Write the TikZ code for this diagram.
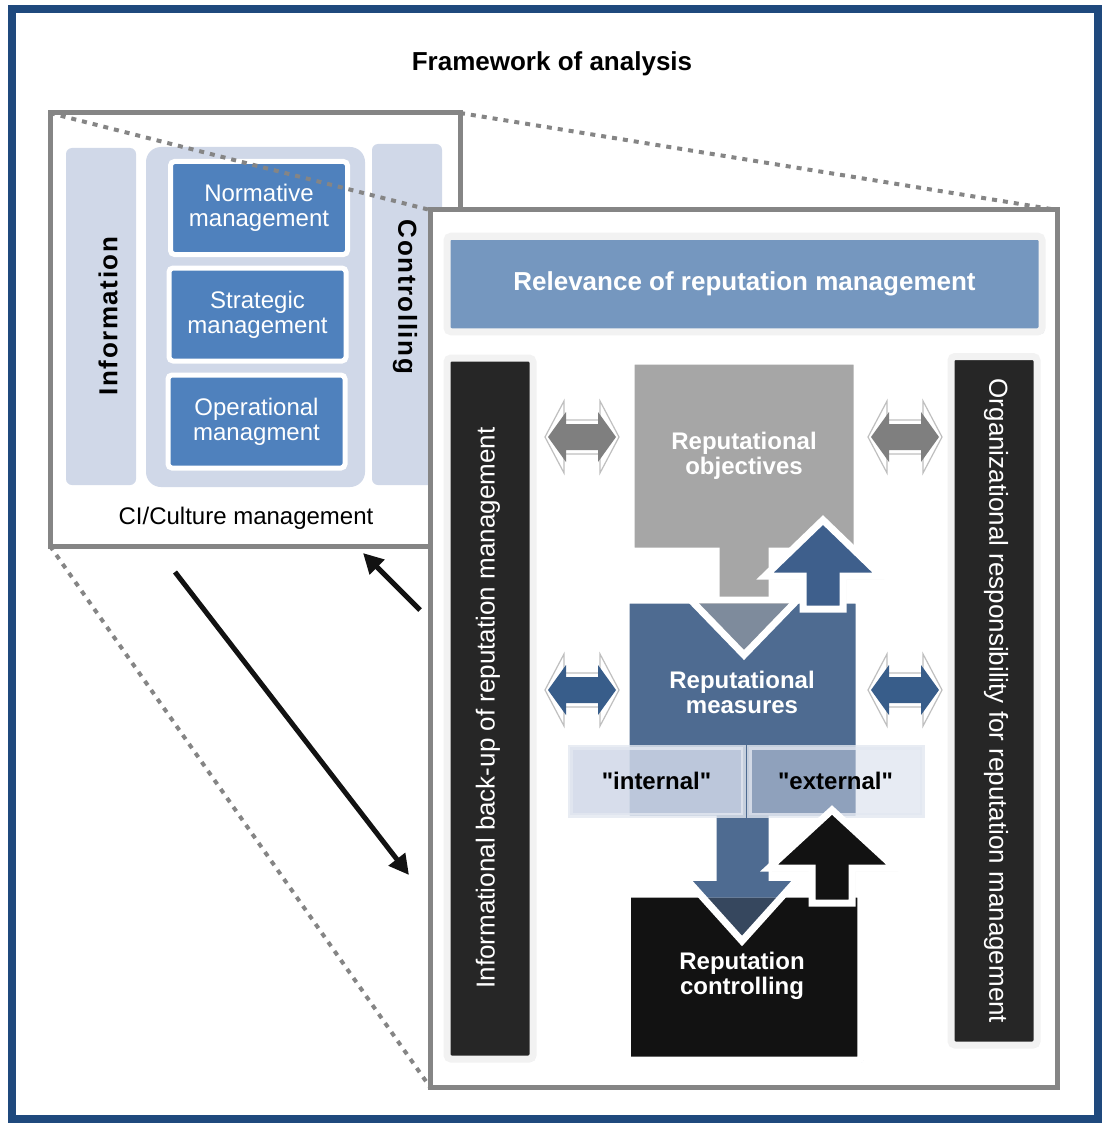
\documentclass[tikz,border=0pt]{standalone}
\usepackage{fontspec}
\setmainfont{Liberation Sans}
\usetikzlibrary{positioning,shadows,arrows.meta}
\definecolor{frameblue}{HTML}{1F497D}
\definecolor{panelgray}{HTML}{858585}
\definecolor{paleblue}{HTML}{D0D8E8}
\definecolor{levelblue}{HTML}{4F81BD}
\definecolor{bannerblue}{HTML}{7597BF}
\definecolor{coldark}{HTML}{262626}
\definecolor{rimgray}{HTML}{F2F2F2}
\definecolor{rimshadow}{HTML}{9AADC8}
\definecolor{objgray}{HTML}{A6A6A6}
\definecolor{measblue}{HTML}{4E6B91}
\definecolor{upblue}{HTML}{3E5F8C}
\definecolor{ctrldark}{HTML}{121212}
\definecolor{sidegray}{HTML}{7F7F7F}
\definecolor{sideblue}{HTML}{385D8A}
\newcommand{\boxfont}{\fontsize{12}{12.5}\selectfont}
\newcommand{\headfont}{\fontsize{12}{12.5}\selectfont\bfseries}
\newcommand{\colfont}{\fontsize{13}{15}\selectfont}

\begin{document}
\begin{tikzpicture}[x=0.5pt, y=-0.5pt,
	levelbox/.style={draw=white, line width=2.5pt, fill=levelblue, rounded corners=2pt, minimum width=88.5pt, minimum height=46.5pt, text=white, font=\boxfont, align=center},
	palecol/.style={fill=paleblue, rounded corners=3pt, minimum width=35pt},
	spaced/.style={font=\colfont\bfseries\addfontfeature{LetterSpace=6}},
	zoomline/.style={panelgray, line width=2pt, dash pattern=on 2.5pt off 3pt},
	rimbox/.style={draw=rimgray, line width=3.5pt, rounded corners=2pt, drop shadow={shadow xshift=1.2pt, shadow yshift=-1.2pt, fill=rimshadow, opacity=0.9}},
	darkcol/.style={rimbox, fill=coldark, minimum width=43pt},
	coltext/.style={text=white, font=\colfont},
	flow/.style={draw=white, line width=3.5pt, line join=miter},
	centre/.style={text=white, font=\headfont, align=center},
	tagbox/.style={draw=paleblue!60!white, draw opacity=0.8, line width=2.5pt, fill=paleblue, minimum width=86.5pt, minimum height=34pt, font=\headfont, text opacity=1},
	linkarrow/.style={draw=ctrldark, line width=2.5pt, -{Triangle[length=10pt, width=10pt]}}
]
	\useasboundingbox (0,0) rectangle (1103,1123);
	\fill[white] (0,0) rectangle (1103,1123);
	\draw[frameblue, line width=4pt] (12,9) rectangle (1098,1119);
	\node[font=\fontsize{13}{15}\selectfont\bfseries] (title) at (552,64) {Framework of analysis};

	\node[draw=panelgray, line width=2.5pt, outer sep=0pt, minimum width=205pt, minimum height=216.5pt] (zoomsrc) at (255,329.5) {};
	\node[palecol, minimum height=168.5pt] (infocol) at (101,316.5) {};
	\node[fill=paleblue, rounded corners=7.5pt, minimum width=109.5pt, minimum height=170pt] (levels) at (255.5,317) {};
	\node[palecol, minimum height=170.5pt] (ctrlcol) at (407,314.5) {};
	\node[levelbox] (normative) at (259,208) {Normative\\management};
	\node[levelbox] (strategic) at (257.5,314.5) {Strategic\\management};
	\node[levelbox] (operational) at (256.5,421.5) {Operational\\managment};
	\node[spaced, rotate=90] (infotext) at (108,316) {Information};
	\node[spaced, rotate=-90] (ctrltext) at (405,297) {Controlling};
	\node[font=\boxfont] (culture) at (246,518) {CI/Culture management};

	\node[draw=panelgray, line width=2.5pt, outer sep=0pt, fill=white, minimum width=313.5pt, minimum height=438.5pt] (zoomdst) at (743.5,648.5) {};
	\draw[zoomline] (zoomsrc.north west) -- (zoomdst.north west);
	\draw[zoomline] (zoomsrc.north east) -- (zoomdst.north east);
	\draw[zoomline] (zoomsrc.south west) -- (zoomdst.south west);

	\node[rimbox, fill=bannerblue, minimum width=297.5pt, minimum height=47.75pt, text=white, font=\colfont\bfseries] (relevance) at (744.5,284) {Relevance of reputation management};
	\node[darkcol, minimum height=350.5pt] (backup) at (490,708.5) {};
	\node[darkcol, minimum height=344.25pt] (duty) at (994,700.75) {};
	\node[coltext, rotate=90] (backuptext) at (488,708) {Informational back-up of reputation management};
	\node[coltext, rotate=-90] (dutytext) at (996,701) {Organizational responsibility for reputation management};

	\foreach \cx/\cy/\tone in {582/437/sidegray, 905/437/sidegray, 582/690/sideblue, 905/690/sideblue}{
		\filldraw[fill=white, draw=black!25, line width=0.6pt] (\cx-37,\cy) -- (\cx-18,\cy-36) -- (\cx-18,\cy-17) -- (\cx+18,\cy-17) -- (\cx+18,\cy-36) -- (\cx+37,\cy) -- (\cx+18,\cy+36) -- (\cx+18,\cy+17) -- (\cx-18,\cy+17) -- (\cx-18,\cy+36) -- cycle;
		\fill[\tone] (\cx-34,\cy) -- (\cx-16,\cy-25) -- (\cx-16,\cy-13) -- (\cx+16,\cy-13) -- (\cx+16,\cy-25) -- (\cx+34,\cy) -- (\cx+16,\cy+25) -- (\cx+16,\cy+13) -- (\cx-16,\cy+13) -- (\cx-16,\cy+25) -- cycle;
	}

	\filldraw[flow, fill=objgray, drop shadow={shadow xshift=1pt, shadow yshift=-1.2pt, opacity=0.3}] (631,361) -- (857,361) -- (857,551) -- (772,551) -- (772,594) -- (803,594) -- (744,655) -- (685,594) -- (716,594) -- (716,551) -- (631,551) -- cycle;
	\filldraw[flow, fill=measblue, drop shadow={shadow xshift=1pt, shadow yshift=-1.2pt, opacity=0.3}] (626,600) -- (859,600) -- (859,819) -- (772,819) -- (772,881) -- (796,881) -- (742,941) -- (688,881) -- (713,881) -- (713,819) -- (626,819) -- cycle;
	\fill[objgray, opacity=0.55] (694,603) -- (744,655) -- (794,603) -- cycle;
	\draw[flow] (685,594) -- (744,655) -- (803,594);
	\filldraw[flow, fill=upblue, drop shadow={shadow xshift=1.5pt, shadow yshift=-1.5pt, opacity=0.45}] (803,609) -- (803,576) -- (765,576) -- (823,520) -- (881,576) -- (843,576) -- (843,609) -- cycle;

	\node[rimbox, draw=white, fill=ctrldark, rounded corners=1pt, minimum width=116.75pt, minimum height=83pt] (ctrlbox) at (744,977) {};
	\fill[measblue] (688,881) -- (796,881) -- (781.5,897.5) -- (702.5,897.5) -- cycle;
	\fill[measblue, opacity=0.6] (702.5,897.5) -- (742,941) -- (781.5,897.5) -- cycle;
	\draw[flow] (688,881) -- (742,941) -- (796,881);

	\node[tagbox, fill opacity=0.85] (internal) at (656.5,781) {\textquotedbl internal\textquotedbl};
	\node[tagbox, fill opacity=0.5] (external) at (835.5,781) {\textquotedbl external\textquotedbl};
	\filldraw[flow, fill=ctrldark, drop shadow={shadow xshift=1.5pt, shadow yshift=-1.5pt, opacity=0.45}] (812,903) -- (812,868) -- (769,868) -- (832,810) -- (895,868) -- (852,868) -- (852,903) -- cycle;

	\node[centre] (objtext) at (744,456) {Reputational\\objectives};
	\node[centre] (meastext) at (742,692) {Reputational\\measures};
	\node[centre] (ctrltext2) at (742,976) {Reputation\\controlling};

	\coordinate (dragstart) at (175,572);
	\coordinate (dragend) at (409,875);
	\draw[linkarrow] (dragstart) -- (dragend);
	\coordinate (backstart) at (420,610);
	\coordinate (backend) at (363,553);
	\draw[linkarrow] (backstart) -- (backend);
\end{tikzpicture}
\end{document}
